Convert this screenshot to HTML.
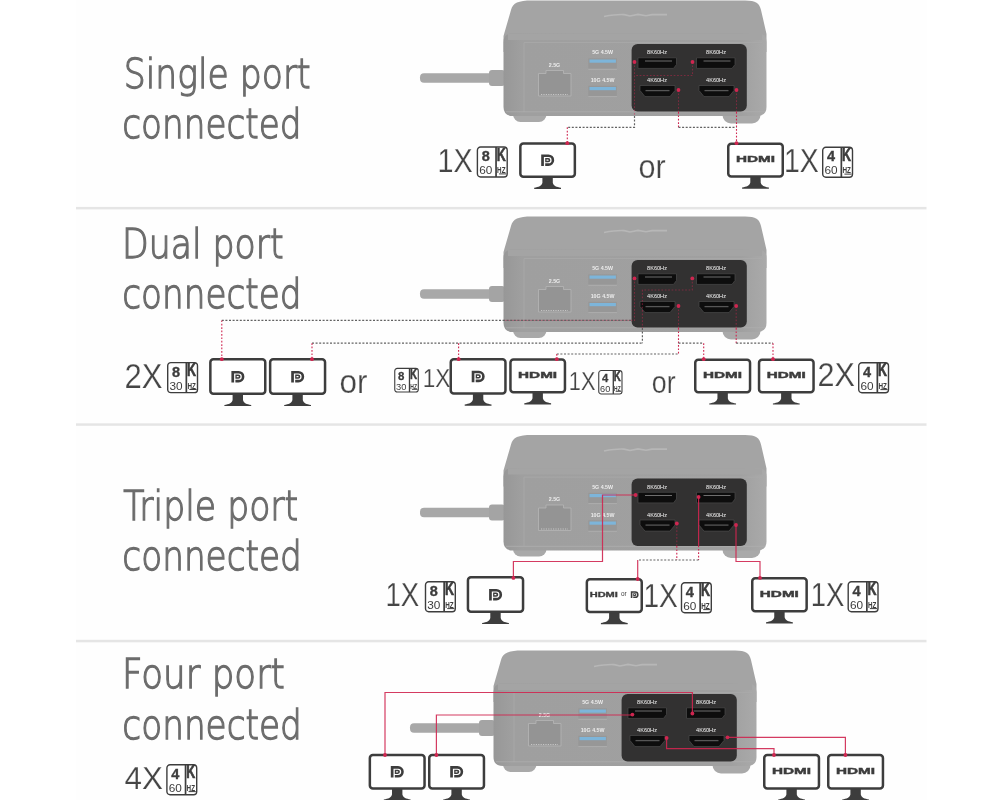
<!DOCTYPE html>
<html lang="en"><head><meta charset="utf-8"><title>Port connection modes</title>
<style>
html,body{margin:0;padding:0;background:#fff;}
svg{display:block;will-change:transform}
.tt{font-family:"DejaVu Sans Light","DejaVu Sans","Liberation Sans",sans-serif;font-weight:200;font-size:41.5px;fill:#6c6c6c;stroke:#6c6c6c;stroke-width:1.3px}
.lb{font-family:"Liberation Sans",sans-serif;fill:#454545;stroke:#fefefe;stroke-width:.25px}
.hd{font-family:"Liberation Sans",sans-serif;font-weight:bold;font-size:9.6px;fill:#3d3d3d;stroke:#3d3d3d;stroke-width:.45px}
.sm{font-family:"Liberation Sans",sans-serif;fill:#3d3d3d}
.b1{font-family:"Liberation Sans",sans-serif;font-weight:bold;font-size:14.5px;fill:#3d3d3d;stroke:#3d3d3d;stroke-width:.35px;text-anchor:middle}
.b2{font-family:"Liberation Sans",sans-serif;font-size:11.8px;fill:#3d3d3d;text-anchor:middle}
.b3{font-family:"Liberation Sans",sans-serif;font-weight:bold;font-size:19px;fill:#3d3d3d;stroke:#3d3d3d;stroke-width:.7px;text-anchor:middle}
.b4{font-family:"Liberation Sans",sans-serif;font-weight:bold;font-size:9.6px;fill:#3d3d3d;text-anchor:middle}
.pl{font-family:"Liberation Sans",sans-serif;font-size:5.6px;fill:#f6f6f6;text-anchor:middle}
.gl{font-family:"Liberation Sans",sans-serif;font-weight:bold;font-size:5.3px;fill:#ececec;text-anchor:middle}
.rd{fill:none;stroke:#cf2650;stroke-width:1.1;stroke-dasharray:1.7 1.7}
.gd{fill:none;stroke:#626262;stroke-width:1.2;stroke-dasharray:2 1.6}
.rs{fill:none;stroke:#cf2650;stroke-width:1.2;stroke-opacity:.9}
.rf{fill:none;stroke:#cf2650;stroke-width:1.1;stroke-dasharray:1.7 1.7;stroke-opacity:.45}
</style></head><body>
<svg width="1000" height="800" viewBox="0 0 1000 800">
<defs>

<linearGradient id="fg" x1="503" x2="767" y1="0" y2="0" gradientUnits="userSpaceOnUse">
<stop offset="0" stop-color="#979797"/><stop offset="0.07" stop-color="#9f9f9f"/><stop offset="0.9" stop-color="#a0a0a0"/><stop offset="1" stop-color="#aaaaaa"/>
</linearGradient>
<g id="dock">
<rect x="420" y="73.2" width="86" height="9.6" rx="4" fill="#a8a8a8"/>
<rect x="489" y="70" width="16" height="16" rx="3" fill="#a4a4a4"/>
<rect x="513" y="106" width="33.5" height="16" rx="7.5" fill="#a9a9a9"/>
<rect x="722.5" y="105" width="38" height="18.4" rx="8.5" fill="#a9a9a9"/>
<path d="M532 0.6 H745 C756 0.6 759.5 3.5 761 10 L766.5 34 V52 H503.5 V36 L511 10 C513 3 518 0.6 532 0.6 Z" fill="#a4a4a4"/>
<path d="M503.5 42 Q503.5 33.5 512 33.5 H758 Q766.5 33.5 766.5 42 V107 Q766.5 115.8 757 116 L513 116 Q503.5 116 503.5 107 Z" fill="url(#fg)"/>
<path d="M508 33.8 H762 V40 H508 Z" fill="#a4a4a4"/>
<path d="M524 111.8 V42.6 H762" stroke="#acacac" stroke-width="0.7" fill="none"/>
<path d="M506 111.8 H765" stroke="#aeaeae" stroke-width="0.8" fill="none"/>
<path d="M604 16.5 C612 15 618 14.2 624 14.6 L630 16 L638 14.4 L646 15.8 L652 14.6 H667" stroke="#b7b7b7" stroke-width="1.6" fill="none"/>
<path d="M538.5 73.5 H546 V70.5 H563.5 V73.5 H571 V96 H538.5 Z" fill="#949494" stroke="#b2b2b2" stroke-width="0.9"/>
<path d="M541 94.5 H568" stroke="#c6c6c6" stroke-width="1" stroke-dasharray="1.2 1.2" fill="none"/>
<text class="gl" x="554.5" y="66.8">2.5G</text>
<rect x="588.3" y="58.3" width="28.6" height="11" fill="#979797"/>
<rect x="589.5" y="59.5" width="26.4" height="3.2" fill="#7db5da"/>
<rect x="588.3" y="68.8" width="28.6" height="0.8" fill="#b4b4b4"/>
<rect x="588.3" y="85.8" width="28.6" height="11" fill="#979797"/>
<rect x="589.5" y="87" width="26.4" height="3.2" fill="#7db5da"/>
<rect x="588.3" y="96.3" width="28.6" height="0.8" fill="#b4b4b4"/>
<text class="gl" x="602.6" y="54.3">5G 4.5W</text>
<text class="gl" x="602.6" y="82">10G 4.5W</text>
<rect x="631.6" y="44" width="115.2" height="67.4" rx="6" fill="#323131"/>
<text class="pl" x="657" y="54.2">8K60Hz</text>
<text class="pl" x="716" y="54.2">8K60Hz</text>
<text class="pl" x="657" y="82.2">4K60Hz</text>
<text class="pl" x="716" y="82.2">4K60Hz</text>
<path d="M638 57.8 H676.5 V64.5 L673.5 68.4 H638 Z" fill="#0d0d0d" stroke="#4c4c4c" stroke-width=".7"/>
<path d="M696.5 57.8 H735 V64.5 L732 68.4 H696.5 Z" fill="#0d0d0d" stroke="#4c4c4c" stroke-width=".7"/>
<path d="M645 61 H672" stroke="#6e6e6e" stroke-width="1" fill="none"/>
<path d="M703.5 61 H730.5" stroke="#6e6e6e" stroke-width="1" fill="none"/>
<path d="M640 85.5 H675 V90.5 L670 96.6 H645 L640 90.5 Z" fill="#0d0d0d" stroke="#4c4c4c" stroke-width=".7"/>
<path d="M699 85.5 H734 V90.5 L729 96.6 H704 L699 90.5 Z" fill="#0d0d0d" stroke="#4c4c4c" stroke-width=".7"/>
<path d="M645.5 90.6 H669.5" stroke="#565656" stroke-width="1.3" fill="none"/>
<path d="M704.5 90.6 H728.5" stroke="#565656" stroke-width="1.3" fill="none"/>
</g>
<g id="dp">
<path d="M0 0 H7.25 A5.75 5.75 0 0 1 7.25 11.5 H4 V8.9 H7.25 A3.15 3.15 0 0 0 7.25 2.6 H2.7 V11.5 H0 Z" fill="#3d3d3d"/>
<path d="M4 3.6 H7 A2.15 2.15 0 0 1 7 7.9 H4 Z M5.3 5.1 V6.4 H6.8 A0.65 0.65 0 0 0 6.8 5.1 Z" fill="#3d3d3d" fill-rule="evenodd"/>
</g>
</defs>
<rect width="1000" height="800" fill="#fff"/>
<rect x="76" y="0" width="851" height="800" fill="#fefefe"/>
<g>

<use href="#dock" x="0" y="0"/>
<text class="tt" x="123.7" y="87.5" textLength="187" lengthAdjust="spacingAndGlyphs">Single port</text>
<text class="tt" x="122.3" y="137.6" textLength="179.2" lengthAdjust="spacingAndGlyphs">connected</text>
<text class="lb" x="437.6" y="172" font-size="33.5" textLength="35.2" lengthAdjust="spacingAndGlyphs">1X</text>
<g transform="translate(476.7,146.3) scale(1.0)">
<rect x="0.7" y="0.7" width="29.8" height="30" rx="3.2" fill="#fff" stroke="#3d3d3d" stroke-width="1.4"/>
<rect x="18.5" y="0.7" width="1.7" height="30" fill="#3d3d3d"/>
<text class="b1" x="9" y="14.9">8</text>
<text class="b2" x="9" y="27.7">60</text>
<text class="b3" x="24.6" y="14.4" textLength="9" lengthAdjust="spacingAndGlyphs">K</text>
<text class="b4" x="24.6" y="26.7" textLength="8.4" lengthAdjust="spacingAndGlyphs">HZ</text>
<rect x="22.4" y="27.1" width="7.2" height="1" fill="#3d3d3d"/>
</g>
<g transform="translate(519.1,142.3)">
<path d="M23.3 34.6 V40.4 C22.7 43.6 19.5 44.6 15.1 45.4 V46.6 H41.9 V45.4 C37.5 44.6 34.3 43.6 33.7 40.4 V34.6 Z" fill="#3d3d3d"/>
<rect x="1.25" y="1.25" width="54.5" height="33.1" rx="3" fill="#fff" stroke="#3d3d3d" stroke-width="2.5"/>
<use href="#dp" x="22.1" y="12.1"/>
</g>
<text class="lb" x="638.6" y="177.6" font-size="33.5" textLength="27.2" lengthAdjust="spacingAndGlyphs">or</text>
<g transform="translate(727,142.4)">
<path d="M23.3 34.4 V40.2 C22.7 43.4 19.5 44.4 15.1 45.2 V46.4 H41.9 V45.2 C37.5 44.4 34.3 43.4 33.7 40.2 V34.4 Z" fill="#3d3d3d"/>
<rect x="1.25" y="1.25" width="54.5" height="32.9" rx="3" fill="#fff" stroke="#3d3d3d" stroke-width="2.5"/>
<text class="hd" x="8.9" y="19.9" textLength="39" lengthAdjust="spacingAndGlyphs">HDMI</text>
</g>
<text class="lb" x="784" y="172" font-size="33.5" textLength="34.8" lengthAdjust="spacingAndGlyphs">1X</text>
<g transform="translate(822,146.5) scale(1.0)">
<rect x="0.7" y="0.7" width="29.8" height="30" rx="3.2" fill="#fff" stroke="#3d3d3d" stroke-width="1.4"/>
<rect x="18.5" y="0.7" width="1.7" height="30" fill="#3d3d3d"/>
<text class="b1" x="9" y="14.9">4</text>
<text class="b2" x="9" y="27.7">60</text>
<text class="b3" x="24.6" y="14.4" textLength="9" lengthAdjust="spacingAndGlyphs">K</text>
<text class="b4" x="24.6" y="26.7" textLength="8.4" lengthAdjust="spacingAndGlyphs">HZ</text>
<rect x="22.4" y="27.1" width="7.2" height="1" fill="#3d3d3d"/>
</g>
<path d="M634.5 62 V116" class="rf"/>
<path d="M634.5 116 V127.3 H567.3" class="gd"/>
<path d="M567.3 127.3 V143" class="rd"/>
<path d="M692.5 62 V75.5 H634.5" class="rf"/>
<path d="M678.5 90 V112" class="rf"/>
<path d="M678.5 112 V127.3" class="rd"/>
<path d="M678.5 127.3 H736.5" class="gd"/>
<path d="M736.5 90 V112" class="rf"/>
<path d="M736.5 112 V143" class="rd"/>
<circle cx="634.5" cy="62" r="1.9" fill="#cf2650"/>
<circle cx="692.5" cy="62" r="1.9" fill="#cf2650"/>
<circle cx="678.5" cy="90" r="1.9" fill="#cf2650"/>
<circle cx="736.5" cy="90" r="1.9" fill="#cf2650"/>
<circle cx="567.3" cy="143.2" r="1.9" fill="#cf2650"/>
<circle cx="736.5" cy="143.2" r="1.9" fill="#cf2650"/>
<rect x="76" y="206.9" width="850.5" height="2.5" fill="#e5e5e5"/>
<path d="M221.8 320.4 H503" class="gd"/>
<path d="M312 343.2 H642.4" class="gd"/>
<path d="M556.8 354 H678.5" class="gd"/>
<use href="#dock" x="0" y="216"/>
<path d="M503 320.4 H631" stroke="#cf2650" stroke-opacity=".45" stroke-width="1" fill="none"/>
<path d="M503 320.4 H632" class="gd"/>
<path d="M634.5 278.4 V320.4 H631" class="rf"/>
<path d="M692.3 278.4 V290 H642.4 V328" class="rf"/>
<path d="M642.4 328 V343.2" class="gd"/>
<path d="M678.5 306 V328" class="rf"/>
<path d="M678.5 328 V354" class="rd"/>
<path d="M678.5 343.2 H703.7" class="gd"/>
<path d="M736.2 306 V328" class="rf"/>
<path d="M736.2 328 V343.2" class="rd"/>
<path d="M736.2 343.2 H773" class="gd"/>
<path d="M221.8 320.4 V359" class="rd"/>
<path d="M312 343.2 V359" class="rd"/>
<path d="M458.6 343.2 V359" class="rd"/>
<path d="M556.8 354 V359" class="rd"/>
<path d="M703.7 343.2 V359" class="rd"/>
<path d="M773 343.2 V359" class="rd"/>
<text class="tt" x="122" y="258" textLength="161.6" lengthAdjust="spacingAndGlyphs">Dual port</text>
<text class="tt" x="122.3" y="308" textLength="179.2" lengthAdjust="spacingAndGlyphs">connected</text>
<text class="lb" x="124.6" y="387.8" font-size="35" textLength="38" lengthAdjust="spacingAndGlyphs">2X</text>
<g transform="translate(167,361.9) scale(1.0)">
<rect x="0.7" y="0.7" width="29.8" height="30" rx="3.2" fill="#fff" stroke="#3d3d3d" stroke-width="1.4"/>
<rect x="18.5" y="0.7" width="1.7" height="30" fill="#3d3d3d"/>
<text class="b1" x="9" y="14.9">8</text>
<text class="b2" x="9" y="27.7">30</text>
<text class="b3" x="24.6" y="14.4" textLength="9" lengthAdjust="spacingAndGlyphs">K</text>
<text class="b4" x="24.6" y="26.7" textLength="8.4" lengthAdjust="spacingAndGlyphs">HZ</text>
<rect x="22.4" y="27.1" width="7.2" height="1" fill="#3d3d3d"/>
</g>
<g transform="translate(209.1,358.1)">
<path d="M23.5 36 V41.8 C22.9 45 19.7 46 15.3 46.8 V48 H42.1 V46.8 C37.7 46 34.5 45 33.9 41.8 V36 Z" fill="#3d3d3d"/>
<rect x="1.25" y="1.25" width="54.9" height="34.5" rx="3" fill="#fff" stroke="#3d3d3d" stroke-width="2.5"/>
<use href="#dp" x="22.3" y="12.8"/>
</g>
<g transform="translate(268.9,358.1)">
<path d="M23.5 36 V41.8 C22.9 45 19.7 46 15.3 46.8 V48 H42.1 V46.8 C37.7 46 34.5 45 33.9 41.8 V36 Z" fill="#3d3d3d"/>
<rect x="1.25" y="1.25" width="54.9" height="34.5" rx="3" fill="#fff" stroke="#3d3d3d" stroke-width="2.5"/>
<use href="#dp" x="22.3" y="12.8"/>
</g>
<text class="lb" x="339.6" y="392.8" font-size="33.5" textLength="28" lengthAdjust="spacingAndGlyphs">or</text>
<g transform="translate(394.2,367.8) scale(0.79)">
<rect x="0.7" y="0.7" width="29.8" height="30" rx="3.2" fill="#fff" stroke="#3d3d3d" stroke-width="1.4"/>
<rect x="18.5" y="0.7" width="1.7" height="30" fill="#3d3d3d"/>
<text class="b1" x="9" y="14.9">8</text>
<text class="b2" x="9" y="27.7">30</text>
<text class="b3" x="24.6" y="14.4" textLength="9" lengthAdjust="spacingAndGlyphs">K</text>
<text class="b4" x="24.6" y="26.7" textLength="8.4" lengthAdjust="spacingAndGlyphs">HZ</text>
<rect x="22.4" y="27.1" width="7.2" height="1" fill="#3d3d3d"/>
</g>
<text class="lb" x="422.8" y="387.2" font-size="25.6" textLength="27.6" lengthAdjust="spacingAndGlyphs">1X</text>
<g transform="translate(449.5,358.1)">
<path d="M23.4 35.6 V41.4 C22.8 44.6 19.6 45.6 15.2 46.4 V47.6 H42.0 V46.4 C37.6 45.6 34.4 44.6 33.8 41.4 V35.6 Z" fill="#3d3d3d"/>
<rect x="1.25" y="1.25" width="54.7" height="34.1" rx="3" fill="#fff" stroke="#3d3d3d" stroke-width="2.5"/>
<use href="#dp" x="22.2" y="12.6"/>
</g>
<g transform="translate(509.2,358.2)">
<path d="M23.3 34.2 V40.0 C22.7 43.2 19.5 44.2 15.1 45.0 V46.2 H41.9 V45.0 C37.5 44.2 34.3 43.2 33.7 40.0 V34.2 Z" fill="#3d3d3d"/>
<rect x="1.25" y="1.25" width="54.5" height="32.7" rx="3" fill="#fff" stroke="#3d3d3d" stroke-width="2.5"/>
<text class="hd" x="8.9" y="19.8" textLength="39" lengthAdjust="spacingAndGlyphs">HDMI</text>
</g>
<text class="lb" x="568.8" y="390.2" font-size="26.5" textLength="26.6" lengthAdjust="spacingAndGlyphs">1X</text>
<g transform="translate(598.2,370) scale(0.78)">
<rect x="0.7" y="0.7" width="29.8" height="30" rx="3.2" fill="#fff" stroke="#3d3d3d" stroke-width="1.4"/>
<rect x="18.5" y="0.7" width="1.7" height="30" fill="#3d3d3d"/>
<text class="b1" x="9" y="14.9">4</text>
<text class="b2" x="9" y="27.7">60</text>
<text class="b3" x="24.6" y="14.4" textLength="9" lengthAdjust="spacingAndGlyphs">K</text>
<text class="b4" x="24.6" y="26.7" textLength="8.4" lengthAdjust="spacingAndGlyphs">HZ</text>
<rect x="22.4" y="27.1" width="7.2" height="1" fill="#3d3d3d"/>
</g>
<text class="lb" x="651.8" y="392.8" font-size="31" textLength="23.8" lengthAdjust="spacingAndGlyphs">or</text>
<g transform="translate(694,358.4)">
<path d="M23.45 34.2 V40.0 C22.85 43.2 19.65 44.2 15.25 45.0 V46.2 H42.05 V45.0 C37.65 44.2 34.45 43.2 33.85 40.0 V34.2 Z" fill="#3d3d3d"/>
<rect x="1.25" y="1.25" width="54.8" height="32.7" rx="3" fill="#fff" stroke="#3d3d3d" stroke-width="2.5"/>
<text class="hd" x="9.05" y="19.8" textLength="39" lengthAdjust="spacingAndGlyphs">HDMI</text>
</g>
<g transform="translate(757.8,358.4)">
<path d="M23.3 34.2 V40.0 C22.7 43.2 19.5 44.2 15.1 45.0 V46.2 H41.9 V45.0 C37.5 44.2 34.3 43.2 33.7 40.0 V34.2 Z" fill="#3d3d3d"/>
<rect x="1.25" y="1.25" width="54.5" height="32.7" rx="3" fill="#fff" stroke="#3d3d3d" stroke-width="2.5"/>
<text class="hd" x="8.9" y="19.8" textLength="39" lengthAdjust="spacingAndGlyphs">HDMI</text>
</g>
<text class="lb" x="817.6" y="386" font-size="33" textLength="37.4" lengthAdjust="spacingAndGlyphs">2X</text>
<g transform="translate(858,362) scale(1.0)">
<rect x="0.7" y="0.7" width="29.8" height="30" rx="3.2" fill="#fff" stroke="#3d3d3d" stroke-width="1.4"/>
<rect x="18.5" y="0.7" width="1.7" height="30" fill="#3d3d3d"/>
<text class="b1" x="9" y="14.9">4</text>
<text class="b2" x="9" y="27.7">60</text>
<text class="b3" x="24.6" y="14.4" textLength="9" lengthAdjust="spacingAndGlyphs">K</text>
<text class="b4" x="24.6" y="26.7" textLength="8.4" lengthAdjust="spacingAndGlyphs">HZ</text>
<rect x="22.4" y="27.1" width="7.2" height="1" fill="#3d3d3d"/>
</g>
<circle cx="634.5" cy="278.4" r="1.9" fill="#cf2650"/>
<circle cx="692.3" cy="278.4" r="1.9" fill="#cf2650"/>
<circle cx="678.5" cy="306" r="1.9" fill="#cf2650"/>
<circle cx="736.2" cy="306" r="1.9" fill="#cf2650"/>
<circle cx="221.8" cy="359.2" r="1.9" fill="#cf2650"/>
<circle cx="312" cy="359.2" r="1.9" fill="#cf2650"/>
<circle cx="458.6" cy="359.2" r="1.9" fill="#cf2650"/>
<circle cx="556.8" cy="359.2" r="1.9" fill="#cf2650"/>
<circle cx="703.7" cy="359.2" r="1.9" fill="#cf2650"/>
<circle cx="773" cy="359.2" r="1.9" fill="#cf2650"/>
<rect x="76" y="423.3" width="850.5" height="2.5" fill="#e5e5e5"/>
<use href="#dock" x="0" y="434.5"/>
<text class="tt" x="123.2" y="519.8" textLength="175" lengthAdjust="spacingAndGlyphs">Triple port</text>
<text class="tt" x="122.3" y="569.6" textLength="179.6" lengthAdjust="spacingAndGlyphs">connected</text>
<text class="lb" x="385.4" y="606.2" font-size="33" textLength="33.8" lengthAdjust="spacingAndGlyphs">1X</text>
<g transform="translate(424.8,581) scale(1.0)">
<rect x="0.7" y="0.7" width="29.8" height="30" rx="3.2" fill="#fff" stroke="#3d3d3d" stroke-width="1.4"/>
<rect x="18.5" y="0.7" width="1.7" height="30" fill="#3d3d3d"/>
<text class="b1" x="9" y="14.9">8</text>
<text class="b2" x="9" y="27.7">30</text>
<text class="b3" x="24.6" y="14.4" textLength="9" lengthAdjust="spacingAndGlyphs">K</text>
<text class="b4" x="24.6" y="26.7" textLength="8.4" lengthAdjust="spacingAndGlyphs">HZ</text>
<rect x="22.4" y="27.1" width="7.2" height="1" fill="#3d3d3d"/>
</g>
<g transform="translate(466.7,576.1)">
<path d="M23.6 36 V41.8 C23.0 45 19.8 46 15.4 46.8 V48 H42.2 V46.8 C37.8 46 34.6 45 34.0 41.8 V36 Z" fill="#3d3d3d"/>
<rect x="1.25" y="1.25" width="55.1" height="34.5" rx="3" fill="#fff" stroke="#3d3d3d" stroke-width="2.5"/>
<use href="#dp" x="22.4" y="12.8"/>
</g>
<g transform="translate(585.6,578.1)">
<path d="M23.5 34.2 V40.0 C22.9 43.2 19.7 44.2 15.3 45.0 V46.2 H42.1 V45.0 C37.7 44.2 34.5 43.2 33.9 40.0 V34.2 Z" fill="#3d3d3d"/>
<rect x="1.25" y="1.25" width="54.9" height="32.7" rx="3" fill="#fff" stroke="#3d3d3d" stroke-width="2.5"/>
<text class="hd" x="4.1" y="18.8" style="font-size:6.6px;stroke-width:.3px" textLength="28.2" lengthAdjust="spacingAndGlyphs">HDMI</text>
<text class="sm" x="35.4" y="18.3" font-size="6.4">or</text>
<use href="#dp" transform="translate(45.2,13.1) scale(0.6)"/>
</g>
<text class="lb" x="643.4" y="606.6" font-size="33" textLength="34.4" lengthAdjust="spacingAndGlyphs">1X</text>
<g transform="translate(680.8,582) scale(1.0)">
<rect x="0.7" y="0.7" width="29.8" height="30" rx="3.2" fill="#fff" stroke="#3d3d3d" stroke-width="1.4"/>
<rect x="18.5" y="0.7" width="1.7" height="30" fill="#3d3d3d"/>
<text class="b1" x="9" y="14.9">4</text>
<text class="b2" x="9" y="27.7">60</text>
<text class="b3" x="24.6" y="14.4" textLength="9" lengthAdjust="spacingAndGlyphs">K</text>
<text class="b4" x="24.6" y="26.7" textLength="8.4" lengthAdjust="spacingAndGlyphs">HZ</text>
<rect x="22.4" y="27.1" width="7.2" height="1" fill="#3d3d3d"/>
</g>
<g transform="translate(751,576.9)">
<path d="M23.25 34.6 V40.4 C22.65 43.6 19.45 44.6 15.05 45.4 V46.6 H41.85 V45.4 C37.45 44.6 34.25 43.6 33.65 40.4 V34.6 Z" fill="#3d3d3d"/>
<rect x="1.25" y="1.25" width="54.4" height="33.1" rx="3" fill="#fff" stroke="#3d3d3d" stroke-width="2.5"/>
<text class="hd" x="8.85" y="20.0" textLength="39" lengthAdjust="spacingAndGlyphs">HDMI</text>
</g>
<text class="lb" x="810.8" y="605.6" font-size="32.5" textLength="33.6" lengthAdjust="spacingAndGlyphs">1X</text>
<g transform="translate(847.5,581) scale(1.0)">
<rect x="0.7" y="0.7" width="29.8" height="30" rx="3.2" fill="#fff" stroke="#3d3d3d" stroke-width="1.4"/>
<rect x="18.5" y="0.7" width="1.7" height="30" fill="#3d3d3d"/>
<text class="b1" x="9" y="14.9">4</text>
<text class="b2" x="9" y="27.7">60</text>
<text class="b3" x="24.6" y="14.4" textLength="9" lengthAdjust="spacingAndGlyphs">K</text>
<text class="b4" x="24.6" y="26.7" textLength="8.4" lengthAdjust="spacingAndGlyphs">HZ</text>
<rect x="22.4" y="27.1" width="7.2" height="1" fill="#3d3d3d"/>
</g>
<path d="M635.6 495 H602.5 V561.5 H513.4 V577.7" class="rs"/>
<path d="M698.6 497 V545.5" class="rs"/>
<path d="M698.6 545.5 V560" class="rd"/>
<path d="M698.6 560 H637.7" class="gd"/>
<path d="M637.7 560 V579" class="rs"/>
<path d="M676.8 523.5 V546" class="rf"/>
<path d="M676.8 546 V560" class="rd"/>
<path d="M736 525 V561.5 H760 V577.8" class="rs"/>
<circle cx="635.6" cy="495" r="1.9" fill="#cf2650"/>
<circle cx="698.6" cy="497" r="1.9" fill="#cf2650"/>
<circle cx="676.8" cy="523.5" r="1.9" fill="#cf2650"/>
<circle cx="736" cy="525" r="1.9" fill="#cf2650"/>
<circle cx="513.4" cy="577.9" r="1.9" fill="#cf2650"/>
<circle cx="637.7" cy="579" r="1.9" fill="#cf2650"/>
<circle cx="760" cy="577.9" r="1.9" fill="#cf2650"/>
<rect x="76" y="639.8" width="850.5" height="2.5" fill="#e5e5e5"/>
<use href="#dock" x="-10" y="650"/>
<text class="tt" x="122" y="688.3" textLength="162.8" lengthAdjust="spacingAndGlyphs">Four port</text>
<text class="tt" x="122.3" y="739" textLength="179.6" lengthAdjust="spacingAndGlyphs">connected</text>
<text class="lb" x="124.6" y="789.2" font-size="31.5" textLength="38.4" lengthAdjust="spacingAndGlyphs">4X</text>
<g transform="translate(166.2,764) scale(1.0)">
<rect x="0.7" y="0.7" width="29.8" height="30" rx="3.2" fill="#fff" stroke="#3d3d3d" stroke-width="1.4"/>
<rect x="18.5" y="0.7" width="1.7" height="30" fill="#3d3d3d"/>
<text class="b1" x="9" y="14.9">4</text>
<text class="b2" x="9" y="27.7">60</text>
<text class="b3" x="24.6" y="14.4" textLength="9" lengthAdjust="spacingAndGlyphs">K</text>
<text class="b4" x="24.6" y="26.7" textLength="8.4" lengthAdjust="spacingAndGlyphs">HZ</text>
<rect x="22.4" y="27.1" width="7.2" height="1" fill="#3d3d3d"/>
</g>
<g transform="translate(368.6,753.8)">
<path d="M23.4 35 V40.8 C22.8 44 19.6 45 15.2 45.8 V47 H42.0 V45.8 C37.6 45 34.4 44 33.8 40.8 V35 Z" fill="#3d3d3d"/>
<rect x="1.25" y="1.25" width="54.7" height="33.5" rx="3" fill="#fff" stroke="#3d3d3d" stroke-width="2.5"/>
<use href="#dp" x="22.2" y="12.3"/>
</g>
<g transform="translate(428,753.8)">
<path d="M23.4 35 V40.8 C22.8 44 19.6 45 15.2 45.8 V47 H42.0 V45.8 C37.6 45 34.4 44 33.8 40.8 V35 Z" fill="#3d3d3d"/>
<rect x="1.25" y="1.25" width="54.7" height="33.5" rx="3" fill="#fff" stroke="#3d3d3d" stroke-width="2.5"/>
<use href="#dp" x="22.2" y="12.3"/>
</g>
<g transform="translate(763,753.8)">
<path d="M23.4 35 V40.8 C22.8 44 19.6 45 15.2 45.8 V47 H42.0 V45.8 C37.6 45 34.4 44 33.8 40.8 V35 Z" fill="#3d3d3d"/>
<rect x="1.25" y="1.25" width="54.7" height="33.5" rx="3" fill="#fff" stroke="#3d3d3d" stroke-width="2.5"/>
<text class="hd" x="9.0" y="20.2" textLength="39" lengthAdjust="spacingAndGlyphs">HDMI</text>
</g>
<g transform="translate(827,753.8)">
<path d="M23.4 35 V40.8 C22.8 44 19.6 45 15.2 45.8 V47 H42.0 V45.8 C37.6 45 34.4 44 33.8 40.8 V35 Z" fill="#3d3d3d"/>
<rect x="1.25" y="1.25" width="54.7" height="33.5" rx="3" fill="#fff" stroke="#3d3d3d" stroke-width="2.5"/>
<text class="hd" x="9.0" y="20.2" textLength="39" lengthAdjust="spacingAndGlyphs">HDMI</text>
</g>
<path d="M385 754.6 V692.5 H692.4 V713.5" class="rs"/>
<path d="M436.4 754.6 V715 H632.4" class="rs"/>
<path d="M666.6 738 V748.6 H774 V755" class="rs"/>
<path d="M727.5 737.3 H845.4 V755" class="rs"/>
<circle cx="692.4" cy="713.5" r="1.9" fill="#cf2650"/>
<circle cx="632.4" cy="714.6" r="1.9" fill="#cf2650"/>
<circle cx="666.6" cy="738" r="1.9" fill="#cf2650"/>
<circle cx="727.5" cy="737.3" r="1.9" fill="#cf2650"/>
<circle cx="385" cy="755" r="1.9" fill="#cf2650"/>
<circle cx="436.4" cy="755" r="1.9" fill="#cf2650"/>
<circle cx="774" cy="755" r="1.9" fill="#cf2650"/>
<circle cx="845.4" cy="755" r="1.9" fill="#cf2650"/>
</g></svg></body></html>
